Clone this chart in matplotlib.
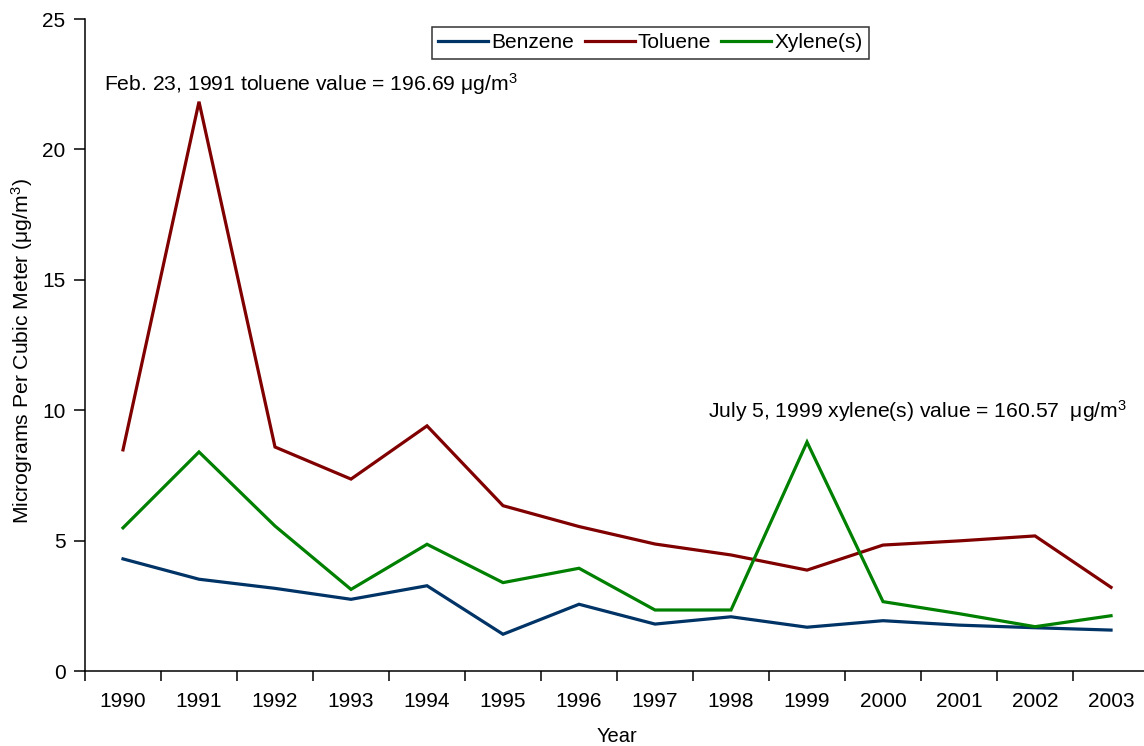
import matplotlib
matplotlib.use("Agg")
import matplotlib.pyplot as plt
import numpy as np

plt.rcParams['font.family'] = ['Liberation Sans', 'DejaVu Sans']
plt.rcParams['mathtext.fontset'] = 'custom'
plt.rcParams['mathtext.rm'] = 'Liberation Sans'
plt.rcParams['mathtext.it'] = 'Liberation Sans'

years = ['1990', '1991', '1992', '1993', '1994', '1995', '1996',
         '1997', '1998', '1999', '2000', '2001', '2002', '2003']
benzene = [4.30, 3.52, 3.17, 2.75, 3.27, 1.41, 2.56, 1.80, 2.08, 1.68, 1.93, 1.76, 1.66, 1.57]
toluene = [8.48, 21.83, 8.59, 7.36, 9.40, 6.34, 5.54, 4.87, 4.45, 3.87, 4.83, 4.99, 5.18, 3.21]
xylene = [5.49, 8.40, 5.56, 3.13, 4.86, 3.39, 3.94, 2.34, 2.34, 8.78, 2.66, 2.20, 1.70, 2.12]

series_names = ['Benzene', 'Toluene', 'Xylene(s)']
series_colors = ['#003366', '#800000', '#008000']

fig = plt.figure(figsize=(11.44, 7.46), dpi=100)
ax = fig.add_axes([0.0743, 0.1005, 0.9301, 0.874])

x = np.arange(len(years))
for vals, name, col in zip([benzene, toluene, xylene], series_names, series_colors):
    ax.plot(x, vals, color=col, lw=2.3, label=name, solid_joinstyle='miter')

ax.set_xlim(-0.5, len(years) - 0.5)
ax.set_ylim(0, 25)
ax.set_yticks([0, 5, 10, 15, 20, 25])

# category boundaries carry the tick marks, centers carry the labels
ax.set_xticks(np.arange(len(years) + 1) - 0.5)
ax.set_xticklabels([])
ax.set_xticks(x, minor=True)
ax.set_xticklabels(years, minor=True)
ax.tick_params(axis='x', which='major', direction='out', length=7, width=1.1)
ax.tick_params(axis='x', which='minor', length=0, pad=15, labelsize=15)
ax.tick_params(axis='y', direction='out', length=8, width=1.1, pad=6, labelsize=15)

for s in ['top', 'right']:
    ax.spines[s].set_visible(False)
for s in ['left', 'bottom']:
    ax.spines[s].set_linewidth(1.1)

ax.set_xlabel('Year', fontsize=14.5, va='top')
ax.xaxis.set_label_coords(0.5, -0.086)
ax.set_ylabel('Micrograms Per Cubic Meter (μg/m$^3$)', fontsize=15.2)
ax.yaxis.set_label_coords(-0.047, 0.49)

ax.text(-0.25, 22.5, 'Feb. 23, 1991 toluene value = 196.69 μg/m$^3$', fontsize=15.2,
        ha='left', va='center')
ax.text(7.7, 9.95, 'July 5, 1999 xylene(s) value = 160.57  μg/m$^3$', fontsize=15.2,
        ha='left', va='center')

leg = ax.legend(loc='upper center', bbox_to_anchor=(0.5315, 0.9875), ncol=3, fontsize=15,
                frameon=True, fancybox=False, edgecolor='black', handlelength=2.4,
                handletextpad=0.15, columnspacing=0.5, borderpad=0.3, borderaxespad=0)
leg.get_frame().set_linewidth(1.1)

fig.savefig('out.png', dpi=100)
